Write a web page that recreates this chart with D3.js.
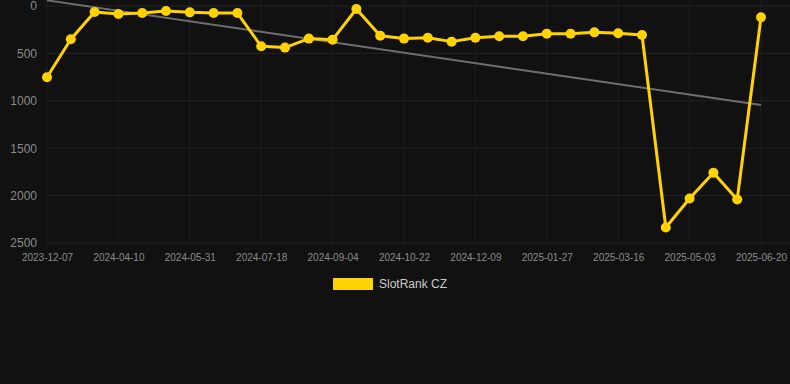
<!DOCTYPE html>
<html>
<head>
<meta charset="utf-8">
<script src="https://cdn.jsdelivr.net/npm/d3@7"></script>
<style>
  html, body { margin: 0; padding: 0; background: #111111; }
  svg { display: block; font-family: "Liberation Sans", Arial, sans-serif; }
</style>
</head>
<body>
<div id="chart"></div>
<script>
// datos
const dates = [
  "2023-12-07", "2024-01-20", "2024-03-01", "2024-04-10", "2024-04-27", "2024-05-14",
  "2024-05-31", "2024-06-16", "2024-07-02", "2024-07-18", "2024-08-03", "2024-08-19",
  "2024-09-04", "2024-09-20", "2024-10-06", "2024-10-22", "2024-11-07", "2024-11-23",
  "2024-12-09", "2024-12-25", "2025-01-11", "2025-01-27", "2025-02-12", "2025-02-28",
  "2025-03-16", "2025-04-01", "2025-04-17", "2025-05-03", "2025-05-19", "2025-06-04",
  "2025-06-20"
];
const ranks = [
  751, 351, 63, 84, 74, 53, 67, 74, 74, 425, 439, 344, 355, 32, 313, 344, 334, 376,
  334, 320, 320, 292, 292, 278, 288, 306, 2336, 2030, 1760, 2041, 119
];
const yTicks = [0, 500, 1000, 1500, 2000, 2500];
const seriesName = "SlotRank CZ";

const width = 790, height = 384;
const plot = {left: 47, right: 761, top: 6, bottom: 243};

const svg = d3.select("#chart").append("svg")
  .attr("width", width)
  .attr("height", height);

const x = d3.scalePoint().domain(dates).range([plot.left, plot.right]);
const y = d3.scaleLinear().domain([0, 2500]).range([plot.top, plot.bottom]);

const xTicks = dates.filter((d, i) => i % 3 === 0);

// rejilla
svg.append("g").selectAll("line")
  .data(yTicks).enter().append("line")
  .attr("x1", plot.left).attr("x2", width)
  .attr("y1", d => y(d)).attr("y2", d => y(d))
  .attr("stroke", "#242424").attr("stroke-width", 1);

svg.append("g").selectAll("line")
  .data(xTicks).enter().append("line")
  .attr("x1", d => x(d)).attr("x2", d => x(d))
  .attr("y1", 0).attr("y2", plot.bottom + 2)
  .attr("stroke", "#1e1e1e").attr("stroke-width", 1);

// ejes
const yAxis = svg.append("g")
  .attr("transform", `translate(${plot.left - 10},0)`)
  .call(d3.axisLeft(y).tickValues(yTicks).tickFormat(d3.format("d")).tickSize(0).tickPadding(0));
yAxis.select(".domain").remove();
yAxis.selectAll("text").attr("fill", "#8c8c8c").style("font-size", "12px")
  .attr("font-family", "Liberation Sans, Arial, sans-serif");

const xAxis = svg.append("g")
  .attr("transform", `translate(0,${plot.bottom + 11})`)
  .call(d3.axisBottom(x).tickValues(xTicks).tickSize(0).tickPadding(0));
xAxis.select(".domain").remove();
xAxis.selectAll("text").attr("fill", "#8c8c8c").style("font-size", "10px")
  .attr("font-family", "Liberation Sans, Arial, sans-serif");

// linea de tendencia (regresion lineal)
const n = ranks.length;
const mx = d3.mean(d3.range(n));
const my = d3.mean(ranks);
const sxy = d3.sum(ranks, (v, i) => (i - mx) * (v - my));
const sxx = d3.sum(d3.range(n), i => (i - mx) * (i - mx));
const slope = sxy / sxx;
const trend = i => my + slope * (i - mx);

svg.append("line")
  .attr("x1", x(dates[0])).attr("y1", y(trend(0)))
  .attr("x2", x(dates[n - 1])).attr("y2", y(trend(n - 1)))
  .attr("stroke", "#6e6e6e").attr("stroke-width", 2);

// serie
const line = d3.line()
  .x((d, i) => x(dates[i]))
  .y(d => y(d));

svg.append("path")
  .datum(ranks)
  .attr("d", line)
  .attr("fill", "none")
  .attr("stroke", "#ffd200")
  .attr("stroke-width", 3)
  .attr("stroke-linejoin", "round");

svg.append("g").selectAll("circle")
  .data(ranks).enter().append("circle")
  .attr("cx", (d, i) => x(dates[i]))
  .attr("cy", d => y(d))
  .attr("r", 5)
  .attr("fill", "#ffd200");

// leyenda
const legend = svg.append("g").attr("transform", "translate(333,278)");
legend.append("rect")
  .attr("width", 40).attr("height", 12)
  .attr("fill", "#ffd200");
legend.append("text")
  .attr("x", 46).attr("y", 6).attr("dy", "0.35em")
  .attr("fill", "#cccccc").style("font-size", "12px")
  .text(seriesName);
</script>
</body>
</html>
